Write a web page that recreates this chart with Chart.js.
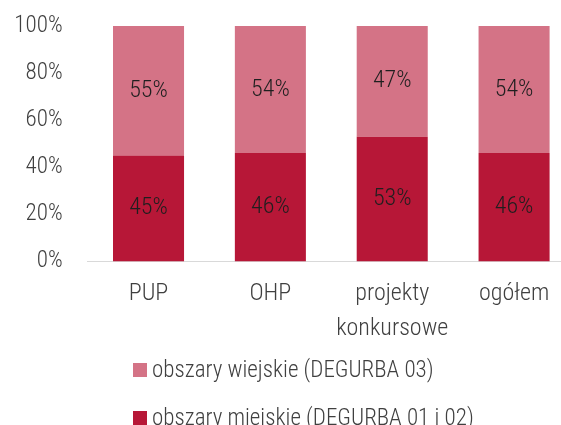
<!DOCTYPE html>
<html>
<head>
<meta charset="utf-8">
<script src="https://cdn.jsdelivr.net/npm/chart.js@4"></script>
<style>
  html, body { margin: 0; padding: 0; background: #fff; overflow: hidden; }
  #wrap { position: relative; width: 576px; height: 425px; }
  #legend { position: absolute; left: 133px; top: 346px; font-family: "Roboto Condensed", Roboto, sans-serif; font-weight: 300; font-size: 23px; color: #404040; white-space: nowrap; }
  .item { display: flex; align-items: center; height: 47px; }
  .item + .item { margin-top: 1px; }
  .box { width: 14px; height: 14px; margin-right: 5px; }
</style>
</head>
<body>
<div id="wrap">
  <canvas id="chart" width="576" height="425"></canvas>
  <div id="legend"></div>
</div>
<script>
const categories = ['PUP', 'OHP', ['projekty', 'konkursowe'], 'ogółem'];
const miejskie = [45, 46, 53, 46];
const wiejskie = [55, 54, 47, 54];
const yTicks = [0, 20, 40, 60, 80, 100];

const fontFamily = '"Roboto Condensed", Roboto, sans-serif';

const barLabels = {
    id: 'barLabels',
    afterDatasetsDraw(chart) {
        const ctx = chart.ctx;
        ctx.save();
        ctx.font = '300 24px ' + fontFamily;
        ctx.fillStyle = '#1f1f1f';
        ctx.textAlign = 'center';
        ctx.textBaseline = 'middle';
        chart.data.datasets.forEach(function (ds, i) {
            chart.getDatasetMeta(i).data.forEach(function (bar, j) {
                ctx.fillText(ds.data[j] + '%', bar.x, (bar.y + bar.base) / 2);
            });
        });
        ctx.restore();
    }
};

const ctx = document.getElementById('chart').getContext('2d');
const chart = new Chart(ctx, {
    type: 'bar',
    data: {
        labels: categories,
        datasets: [{
            label: 'obszary miejskie (DEGURBA 01 i 02)',
            data: miejskie,
            backgroundColor: '#B71737',
            borderWidth: 0
        }, {
            label: 'obszary wiejskie (DEGURBA 03)',
            data: wiejskie,
            backgroundColor: '#D47386',
            borderWidth: 0
        }]
    },
    options: {
        responsive: false,
        animation: false,
        layout: { padding: { left: 0, right: 1, top: 26, bottom: 64 } },
        plugins: {
            legend: { display: false },
            tooltip: { enabled: false }
        },
        datasets: {
            bar: { categoryPercentage: 1, barPercentage: 0.583 }
        },
        scales: {
            x: {
                stacked: true,
                grid: { display: false, drawTicks: false },
                border: { display: true, color: '#d9d9d9', width: 1 },
                ticks: {
                    color: '#404040',
                    padding: 15,
                    maxRotation: 0,
                    font: { family: fontFamily, size: 24, weight: 300, lineHeight: 1.45 }
                }
            },
            y: {
                stacked: true,
                min: 0,
                max: 100,
                afterBuildTicks: function (axis) {
                    axis.ticks = yTicks.map(v => ({ value: v }));
                },
                afterFit: function (axis) {
                    axis.width = 87.6;
                    axis.paddingTop = 0;
                    axis.paddingBottom = 0;
                },
                grid: { display: false, drawTicks: false },
                border: { display: false },
                ticks: {
                    color: '#404040',
                    padding: 25,
                    font: { family: fontFamily, size: 23, weight: 300 },
                    callback: v => v + '%'
                }
            }
        }
    },
    plugins: [barLabels]
});

// legend below the chart, light series first
const legend = document.getElementById('legend');
chart.data.datasets.slice().reverse().forEach(function (ds) {
    const item = document.createElement('div');
    item.className = 'item';
    const box = document.createElement('span');
    box.className = 'box';
    box.style.background = ds.backgroundColor;
    item.appendChild(box);
    item.appendChild(document.createTextNode(ds.label));
    legend.appendChild(item);
});
</script>
</body>
</html>
